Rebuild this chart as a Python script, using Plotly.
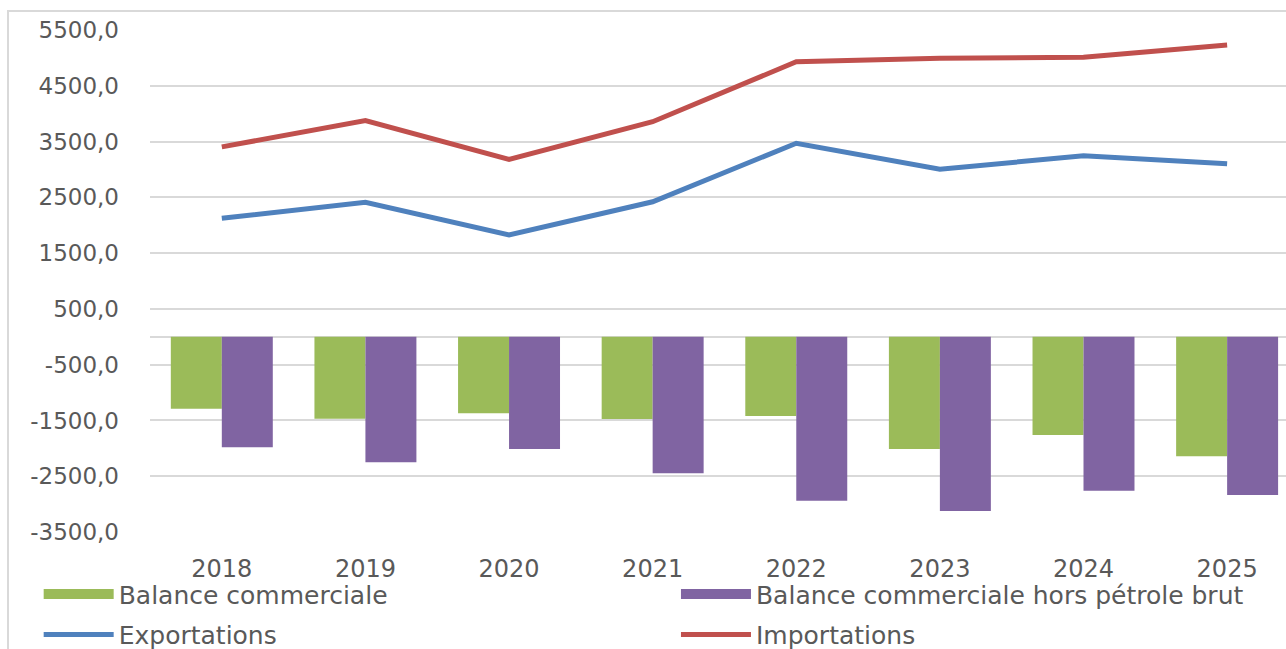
"""Balance commerciale : barres (soldes) + lignes (exportations / importations)."""
import plotly.graph_objects as go

# données
annees = ["2018", "2019", "2020", "2021", "2022", "2023", "2024", "2025"]
balance = [-1290, -1470, -1370, -1475, -1420, -2010, -1760, -2140]
balance_hors_petrole = [-1980, -2250, -2010, -2445, -2940, -3125, -2760, -2835]
exportations = [2125, 2410, 1825, 2420, 3470, 3005, 3245, 3100]
importations = [3405, 3875, 3180, 3855, 4930, 4995, 5010, 5230]
y_ticks = [5500, 4500, 3500, 2500, 1500, 500, -500, -1500, -2500, -3500]

VERT = "#9BBB59"
VIOLET = "#8064A2"
BLEU = "#4F81BD"
ROUGE = "#C0504D"
GRIS_TXT = "#595959"
GRILLE = "#D9D9D9"
FONT = "DejaVu Sans"

fig = go.Figure()
fig.add_trace(go.Bar(x=annees, y=balance, name="Balance commerciale",
                     marker=dict(color=VERT, line_width=0),
                     showlegend=False, legendgroup="a"))
fig.add_trace(go.Bar(x=annees, y=balance_hors_petrole,
                     name="Balance commerciale hors pétrole brut",
                     marker=dict(color=VIOLET, line_width=0),
                     showlegend=False, legendgroup="b"))
fig.add_trace(go.Scatter(x=annees, y=exportations, name="Exportations", mode="lines",
                         line=dict(color=BLEU, width=5),
                         legend="legend", legendgroup="c"))
fig.add_trace(go.Scatter(x=annees, y=importations, name="Importations", mode="lines",
                         line=dict(color=ROUGE, width=5),
                         legend="legend2", legendgroup="d"))

# entrées de légende façon Excel (rectangle large) pour les barres
fig.add_trace(go.Scatter(x=[None], y=[None], mode="lines", name="Balance commerciale",
                         line=dict(color=VERT, width=17),
                         legend="legend", legendgroup="a", legendrank=1))
fig.add_trace(go.Scatter(x=[None], y=[None], mode="lines",
                         name="Balance commerciale hors pétrole brut",
                         line=dict(color=VIOLET, width=17),
                         legend="legend2", legendgroup="b", legendrank=1))

leg = dict(orientation="v", yanchor="top", y=-0.078, xanchor="left",
           font=dict(family=FONT, size=25, color=GRIS_TXT),
           bgcolor="rgba(0,0,0,0)", itemwidth=70, tracegroupgap=5,
           itemclick=False, traceorder="grouped")

fig.update_layout(
    width=1286, height=649,
    paper_bgcolor="white", plot_bgcolor="white",
    barmode="group", bargap=0.29, bargroupgap=0,
    margin=dict(l=150, r=0, t=30, b=117, autoexpand=False),
    font=dict(family=FONT, size=24, color=GRIS_TXT),
    legend=dict(leg, x=-0.098),
    legend2=dict(leg, x=0.463),
    xaxis=dict(type="category", range=[-0.5, 7.41], showgrid=False,
               showline=False, ticks="", ticklabelstandoff=20,
               tickfont=dict(family=FONT, size=24, color=GRIS_TXT)),
    yaxis=dict(range=[-3500, 5500], tickvals=y_ticks,
               ticktext=[f"{v:.1f}".replace(".", ",") for v in y_ticks],
               showgrid=True, gridcolor=GRILLE, gridwidth=2,
               zeroline=True, zerolinecolor=GRILLE, zerolinewidth=2,
               showline=False, ticks="", ticklabelstandoff=30,
               tickfont=dict(family=FONT, size=23, color=GRIS_TXT)),
    shapes=[dict(type="rect", xref="paper", yref="paper",
                 x0=-0.125, x1=1.2, y0=-0.4, y1=1.038,
                 line=dict(color=GRILLE, width=2), layer="below")],
)

# pas de marge de page autour du graphique
fig.write_html("out.html", config={"displayModeBar": False},
               post_script="document.body.style.margin='0';")
